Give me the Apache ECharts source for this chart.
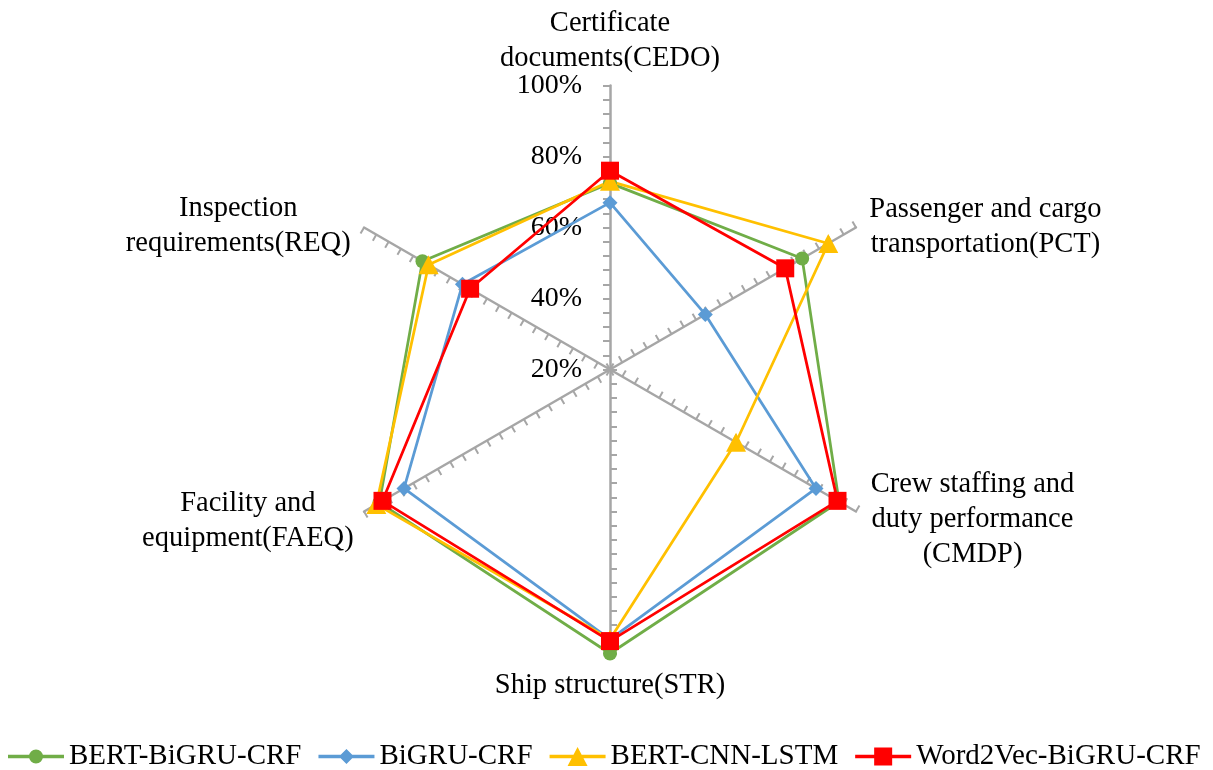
<!DOCTYPE html>
<html>
<head>
<meta charset="utf-8">
<script src="https://cdn.jsdelivr.net/npm/echarts@6/dist/echarts.min.js"></script>
<style>
  html, body { margin: 0; padding: 0; background: #fff; }
  #chart { width: 1213px; height: 770px; }
</style>
</head>
<body>
<div id="chart"></div>
<script>
// Indicators, listed in the order the radar lays them out (counter-clockwise from the top)
const categories = [
  'Certificate\ndocuments(CEDO)',
  'Inspection\nrequirements(REQ)',
  'Facility and\nequipment(FAEQ)',
  'Ship structure(STR)',
  'Crew staffing and\nduty performance\n(CMDP)',
  'Passenger and cargo\ntransportation(PCT)'
];

// Scores (%) per indicator, same order as categories
const bertBiGruCrf   = [72.5, 81, 95, 100, 94.5, 82.5];
const biGruCrf       = [67, 68, 87, 96, 87, 51];
const bertCnnLstm    = [73, 79, 96, 96, 61, 91];
const word2vecBiGru  = [76, 65.5, 94, 96.5, 94, 77];

const seriesNames = ['BERT-BiGRU-CRF', 'BiGRU-CRF', 'BERT-CNN-LSTM', 'Word2Vec-BiGRU-CRF'];
const tickLabels = [20, 40, 60, 80, 100];

const FONT = "'Liberation Serif', 'Times New Roman', serif";

// Per-indicator fine placement of the name blocks
const nameGaps = [9, 15.5, 12, 15, 17, 15.5];
const namePadTop = [0, 13, 8, 0, 0, 15];

const indicator = categories.map((name, i) => {
  const ind = {
    name: name, min: 20, max: 100,
    nameGap: nameGaps[i],
    nameMoveOverlap: false,
    nameTextStyle: { padding: [namePadTop[i], 0, 0, 0] }
  };
  if (i === 0) {
    ind.axisLabel = {
      show: true,
      color: '#000',
      fontFamily: FONT,
      fontSize: 28,
      margin: 28,
      formatter: v => (tickLabels.indexOf(Math.round(v)) >= 0 ? Math.round(v) + '%' : '')
    };
  }
  return ind;
});

// Marker styles and matching legend icons (a line segment with the marker on it)
const styles = [
  { color: '#70AD47', symbol: 'circle', size: 14,
    icon: 'path://M0 5.25H56V8.75H0Z M28 0A7 7 0 1 1 28 14A7 7 0 1 1 28 0Z' },
  { color: '#5B9BD5', symbol: 'diamond', size: 15,
    icon: 'path://M0 5.75H56V9.25H0Z M28 0L35.5 7.5L28 15L20.5 7.5Z' },
  { color: '#FFC000', symbol: 'triangle', size: [20, 19],
    icon: 'path://M0 7.75H56V11.25H0Z M28 0L38 19L18 19Z' },
  { color: '#FF0000', symbol: 'rect', size: 18,
    icon: 'path://M0 7.25H56V10.75H0Z M19 0H37V18H19Z' }
];
const values = [bertBiGruCrf, biGruCrf, bertCnnLstm, word2vecBiGru];

const chart = echarts.init(document.getElementById('chart'), null, { renderer: 'canvas' });
chart.setOption({
  animation: false,
  backgroundColor: '#fff',
  legend: {
    left: 3,
    top: 737,
    itemWidth: 56,
    itemHeight: 19,
    itemGap: 17,
    symbolKeepAspect: true,
    textStyle: { fontFamily: FONT, fontSize: 29, color: '#000' },
    data: seriesNames.map((n, i) => ({ name: n, icon: styles[i].icon }))
  },
  radar: {
    center: [610, 369.5],
    radius: 284,
    startAngle: 90,
    splitNumber: 20,
    shape: 'polygon',
    nameGap: 12,
    axisName: {
      color: '#000',
      fontFamily: FONT,
      fontSize: 28.5,
      lineHeight: 35,
      formatter: (name) => name.split('\n').map(l => '{c|' + l + '}').join('\n'),
      rich: {
        c: { align: 'center', fontFamily: FONT, fontSize: 28.5, lineHeight: 35, color: '#000' }
      }
    },
    axisLine: { lineStyle: { color: '#A6A6A6', width: 2.5 } },
    axisTick: { show: true, length: 7, lineStyle: { color: '#A6A6A6', width: 2 } },
    axisLabel: { show: false },
    splitLine: { show: false },
    splitArea: { show: false },
    indicator: indicator
  },
  series: [{
    type: 'radar',
    data: seriesNames.map((n, i) => ({
      name: n,
      value: values[i],
      symbol: styles[i].symbol,
      symbolSize: styles[i].size,
      lineStyle: { color: styles[i].color, width: 2.75 },
      itemStyle: { color: styles[i].color }
    }))
  }]
});
</script>
</body>
</html>
